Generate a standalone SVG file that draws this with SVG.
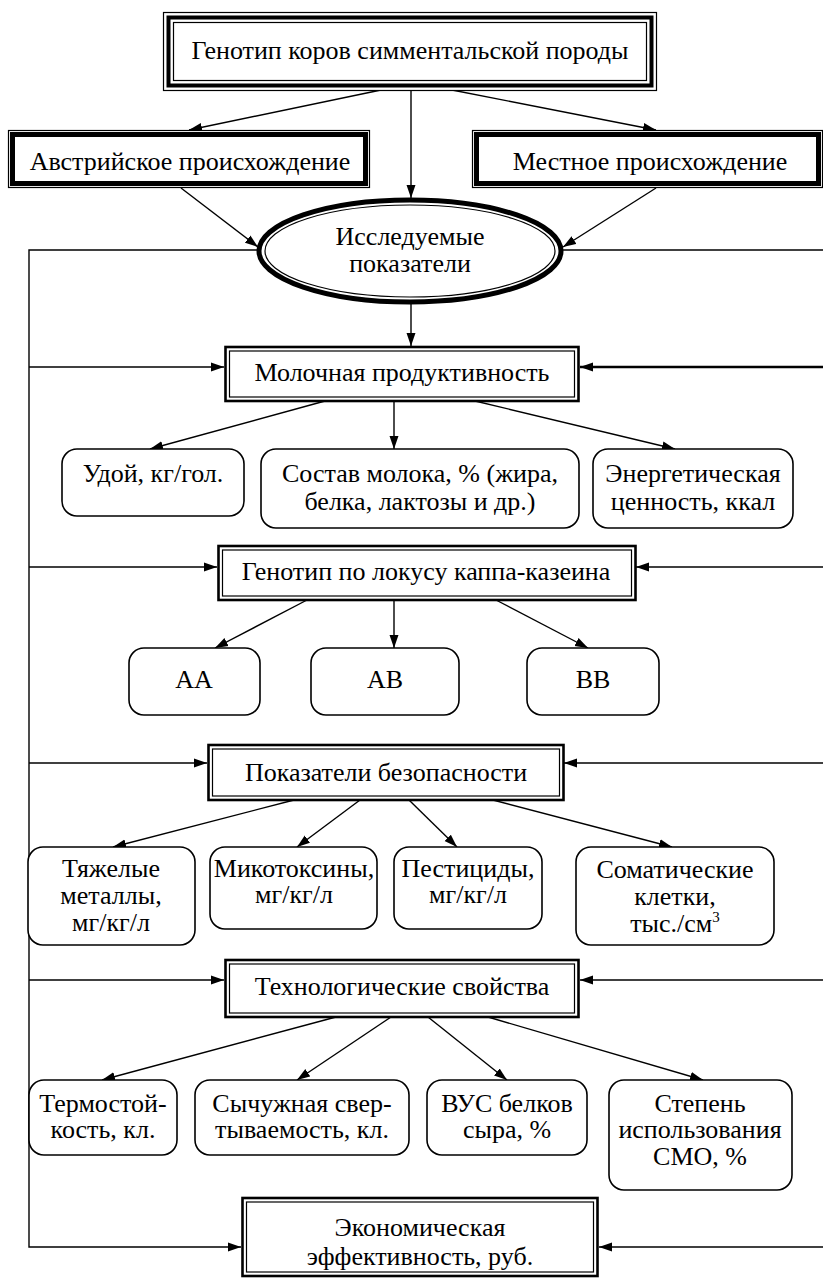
<svg xmlns="http://www.w3.org/2000/svg" width="823" height="1280" viewBox="0 0 823 1280">
<defs>
<marker id="ah" markerWidth="14" markerHeight="10" refX="13" refY="5" orient="auto" markerUnits="userSpaceOnUse"><path d="M0,0.5 L13,5 L0,9.5 z" fill="#000"/></marker>
</defs>
<rect width="823" height="1280" fill="#fff"/>
<g id="connectors" fill="none" stroke="#000" stroke-width="1.4">
<line x1="381" y1="90" x2="189" y2="130" marker-end="url(#ah)"/>
<line x1="411" y1="90" x2="411" y2="198" marker-end="url(#ah)"/>
<line x1="452" y1="90" x2="656" y2="130" marker-end="url(#ah)"/>
<line x1="181" y1="188" x2="258" y2="247" marker-end="url(#ah)"/>
<line x1="656" y1="188" x2="563" y2="247" marker-end="url(#ah)"/>
<polyline points="258,250 29,250 29,1247 241,1247" marker-end="url(#ah)"/>
<line x1="29" y1="367" x2="224" y2="367" marker-end="url(#ah)"/>
<line x1="29" y1="567" x2="217" y2="567" marker-end="url(#ah)"/>
<line x1="29" y1="763" x2="207" y2="763" marker-end="url(#ah)"/>
<line x1="29" y1="980" x2="224" y2="980" marker-end="url(#ah)"/>
<line x1="562" y1="250" x2="823" y2="250"/>
<line x1="823" y1="367" x2="580" y2="367" stroke-width="2.6" marker-end="url(#ah)"/>
<line x1="823" y1="567" x2="636" y2="567" marker-end="url(#ah)"/>
<line x1="823" y1="763" x2="564" y2="763" marker-end="url(#ah)"/>
<line x1="823" y1="980" x2="580" y2="980" marker-end="url(#ah)"/>
<line x1="823" y1="1247" x2="599" y2="1247" marker-end="url(#ah)"/>
<line x1="411" y1="303" x2="411" y2="346" marker-end="url(#ah)"/>
<line x1="325" y1="401" x2="150" y2="449" marker-end="url(#ah)"/>
<line x1="394" y1="401" x2="394" y2="449" marker-end="url(#ah)"/>
<line x1="475" y1="401" x2="675" y2="449" marker-end="url(#ah)"/>
<line x1="307" y1="600" x2="215" y2="648" marker-end="url(#ah)"/>
<line x1="394" y1="600" x2="394" y2="648" marker-end="url(#ah)"/>
<line x1="496" y1="600" x2="588" y2="648" marker-end="url(#ah)"/>
<line x1="294" y1="800" x2="113" y2="847" marker-end="url(#ah)"/>
<line x1="360" y1="800" x2="297" y2="847" marker-end="url(#ah)"/>
<line x1="409" y1="800" x2="457" y2="847" marker-end="url(#ah)"/>
<line x1="493" y1="800" x2="672" y2="847" marker-end="url(#ah)"/>
<line x1="336" y1="1017" x2="102" y2="1080" marker-end="url(#ah)"/>
<line x1="391" y1="1017" x2="297" y2="1080" marker-end="url(#ah)"/>
<line x1="428" y1="1017" x2="507" y2="1080" marker-end="url(#ah)"/>
<line x1="488" y1="1017" x2="703" y2="1080" marker-end="url(#ah)"/>
</g>
<g id="n-top">
<rect x="163.5" y="12.5" width="493" height="78" fill="#fff" stroke="#000" stroke-width="1.2"/>
<rect x="168.5" y="17.5" width="483" height="68" fill="none" stroke="#000" stroke-width="4"/>
<rect x="173.5" y="22.5" width="473" height="58" fill="none" stroke="#000" stroke-width="1.2"/>
<text x="410" y="59" font-family="Times New Roman" font-size="26" text-anchor="middle">Генотип коров симментальской породы</text>
</g>
<g id="n-austria">
<rect x="8.5" y="130.5" width="361" height="57" fill="#fff" stroke="#000" stroke-width="1.2"/>
<rect x="12.5" y="134.5" width="353" height="49" fill="none" stroke="#000" stroke-width="5"/>
<text x="190" y="170" font-family="Times New Roman" font-size="26" text-anchor="middle">Австрийское происхождение</text>
</g>
<g id="n-local">
<rect x="472.5" y="130.5" width="350" height="57" fill="#fff" stroke="#000" stroke-width="1.2"/>
<rect x="476.5" y="134.5" width="342" height="49" fill="none" stroke="#000" stroke-width="5"/>
<text x="650" y="170" font-family="Times New Roman" font-size="26" text-anchor="middle">Местное происхождение</text>
</g>
<g id="n-ellipse">
<ellipse cx="410" cy="251" rx="151" ry="51" fill="#fff" stroke="#000" stroke-width="5"/>
<ellipse cx="410" cy="251" rx="145" ry="46" fill="none" stroke="#000" stroke-width="1.2"/>
<text x="410" y="245" font-family="Times New Roman" font-size="26" text-anchor="middle">Исследуемые</text>
<text x="410" y="272" font-family="Times New Roman" font-size="26" text-anchor="middle">показатели</text>
</g>
<g id="n-milk">
<rect x="225.5" y="347" width="353" height="54" fill="#fff" stroke="#000" stroke-width="2.6"/>
<rect x="229.5" y="351" width="345" height="46" fill="none" stroke="#000" stroke-width="1.2"/>
<text x="402" y="381" font-family="Times New Roman" font-size="26" text-anchor="middle">Молочная продуктивность</text>
</g>
<g id="n-yield">
<rect x="62" y="449" width="182" height="67" rx="15" fill="#fff" stroke="#000" stroke-width="1.6"/>
<text x="153" y="482" font-family="Times New Roman" font-size="26" text-anchor="middle">Удой, кг/гол.</text>
</g>
<g id="n-composition">
<rect x="261" y="449" width="318" height="79" rx="15" fill="#fff" stroke="#000" stroke-width="1.6"/>
<text x="420" y="482" font-family="Times New Roman" font-size="26" text-anchor="middle">Состав молока, % (жира,</text>
<text x="420" y="510" font-family="Times New Roman" font-size="26" text-anchor="middle">белка, лактозы и др.)</text>
</g>
<g id="n-energy">
<rect x="593" y="449" width="200" height="79" rx="15" fill="#fff" stroke="#000" stroke-width="1.6"/>
<text x="693" y="482" font-family="Times New Roman" font-size="26" text-anchor="middle">Энергетическая</text>
<text x="693" y="510" font-family="Times New Roman" font-size="26" text-anchor="middle">ценность, ккал</text>
</g>
<g id="n-kappa">
<rect x="218.5" y="546" width="417" height="54" fill="#fff" stroke="#000" stroke-width="2.6"/>
<rect x="222.5" y="550" width="409" height="46" fill="none" stroke="#000" stroke-width="1.2"/>
<text x="426" y="580" font-family="Times New Roman" font-size="26" text-anchor="middle">Генотип по локусу каппа-казеина</text>
</g>
<g id="n-aa">
<rect x="129" y="648" width="131" height="67" rx="15" fill="#fff" stroke="#000" stroke-width="1.6"/>
<text x="194" y="688" font-family="Times New Roman" font-size="26" text-anchor="middle">АА</text>
</g>
<g id="n-ab">
<rect x="311" y="648" width="148" height="67" rx="15" fill="#fff" stroke="#000" stroke-width="1.6"/>
<text x="385" y="688" font-family="Times New Roman" font-size="26" text-anchor="middle">АВ</text>
</g>
<g id="n-bb">
<rect x="527" y="648" width="132" height="67" rx="15" fill="#fff" stroke="#000" stroke-width="1.6"/>
<text x="593" y="688" font-family="Times New Roman" font-size="26" text-anchor="middle">ВВ</text>
</g>
<g id="n-safety">
<rect x="208.5" y="745" width="355" height="55" fill="#fff" stroke="#000" stroke-width="2.6"/>
<rect x="212.5" y="749" width="347" height="47" fill="none" stroke="#000" stroke-width="1.2"/>
<text x="386" y="781" font-family="Times New Roman" font-size="26" text-anchor="middle">Показатели безопасности</text>
</g>
<g id="n-metals">
<rect x="28" y="847" width="167" height="98" rx="15" fill="#fff" stroke="#000" stroke-width="1.6"/>
<text x="111" y="877" font-family="Times New Roman" font-size="26" text-anchor="middle">Тяжелые</text>
<text x="111" y="904" font-family="Times New Roman" font-size="26" text-anchor="middle">металлы,</text>
<text x="111" y="931" font-family="Times New Roman" font-size="26" text-anchor="middle">мг/кг/л</text>
</g>
<g id="n-myco">
<rect x="210" y="847" width="167" height="82" rx="15" fill="#fff" stroke="#000" stroke-width="1.6"/>
<text x="294" y="877" font-family="Times New Roman" font-size="26" text-anchor="middle">Микотоксины,</text>
<text x="294" y="903" font-family="Times New Roman" font-size="26" text-anchor="middle">мг/кг/л</text>
</g>
<g id="n-pest">
<rect x="394" y="847" width="148" height="82" rx="15" fill="#fff" stroke="#000" stroke-width="1.6"/>
<text x="468" y="877" font-family="Times New Roman" font-size="26" text-anchor="middle">Пестициды,</text>
<text x="468" y="903" font-family="Times New Roman" font-size="26" text-anchor="middle">мг/кг/л</text>
</g>
<g id="n-somatic">
<rect x="576" y="847" width="198" height="98" rx="15" fill="#fff" stroke="#000" stroke-width="1.6"/>
<text x="675" y="878" font-family="Times New Roman" font-size="26" text-anchor="middle">Соматические</text>
<text x="675" y="905" font-family="Times New Roman" font-size="26" text-anchor="middle">клетки,</text>
<text x="675" y="932" font-family="Times New Roman" font-size="26" text-anchor="middle">тыс./см<tspan font-size="15" dy="-10">3</tspan></text>
</g>
<g id="n-tech">
<rect x="225.5" y="960" width="353" height="57" fill="#fff" stroke="#000" stroke-width="2.6"/>
<rect x="229.5" y="964" width="345" height="49" fill="none" stroke="#000" stroke-width="1.2"/>
<text x="402" y="995" font-family="Times New Roman" font-size="26" text-anchor="middle">Технологические свойства</text>
</g>
<g id="n-thermo">
<rect x="29" y="1080" width="148" height="75" rx="15" fill="#fff" stroke="#000" stroke-width="1.6"/>
<text x="103" y="1112" font-family="Times New Roman" font-size="26" text-anchor="middle">Термостой-</text>
<text x="103" y="1138" font-family="Times New Roman" font-size="26" text-anchor="middle">кость, кл.</text>
</g>
<g id="n-rennet">
<rect x="195" y="1080" width="214" height="75" rx="15" fill="#fff" stroke="#000" stroke-width="1.6"/>
<text x="302" y="1112" font-family="Times New Roman" font-size="26" text-anchor="middle">Сычужная свер-</text>
<text x="302" y="1138" font-family="Times New Roman" font-size="26" text-anchor="middle">тываемость, кл.</text>
</g>
<g id="n-vus">
<rect x="427" y="1080" width="160" height="75" rx="15" fill="#fff" stroke="#000" stroke-width="1.6"/>
<text x="507" y="1112" font-family="Times New Roman" font-size="26" text-anchor="middle">ВУС белков</text>
<text x="507" y="1138" font-family="Times New Roman" font-size="26" text-anchor="middle">сыра, %</text>
</g>
<g id="n-smo">
<rect x="609" y="1080" width="183" height="110" rx="15" fill="#fff" stroke="#000" stroke-width="1.6"/>
<text x="700" y="1112" font-family="Times New Roman" font-size="26" text-anchor="middle">Степень</text>
<text x="700" y="1138" font-family="Times New Roman" font-size="26" text-anchor="middle">использования</text>
<text x="700" y="1165" font-family="Times New Roman" font-size="26" text-anchor="middle">СМО, %</text>
</g>
<g id="n-econ">
<rect x="242.5" y="1198" width="355" height="78" fill="#fff" stroke="#000" stroke-width="2.6"/>
<rect x="246.5" y="1202" width="347" height="70" fill="none" stroke="#000" stroke-width="1.2"/>
<text x="420" y="1236" font-family="Times New Roman" font-size="26" text-anchor="middle">Экономическая</text>
<text x="420" y="1265" font-family="Times New Roman" font-size="26" text-anchor="middle">эффективность, руб.</text>
</g>
</svg>
